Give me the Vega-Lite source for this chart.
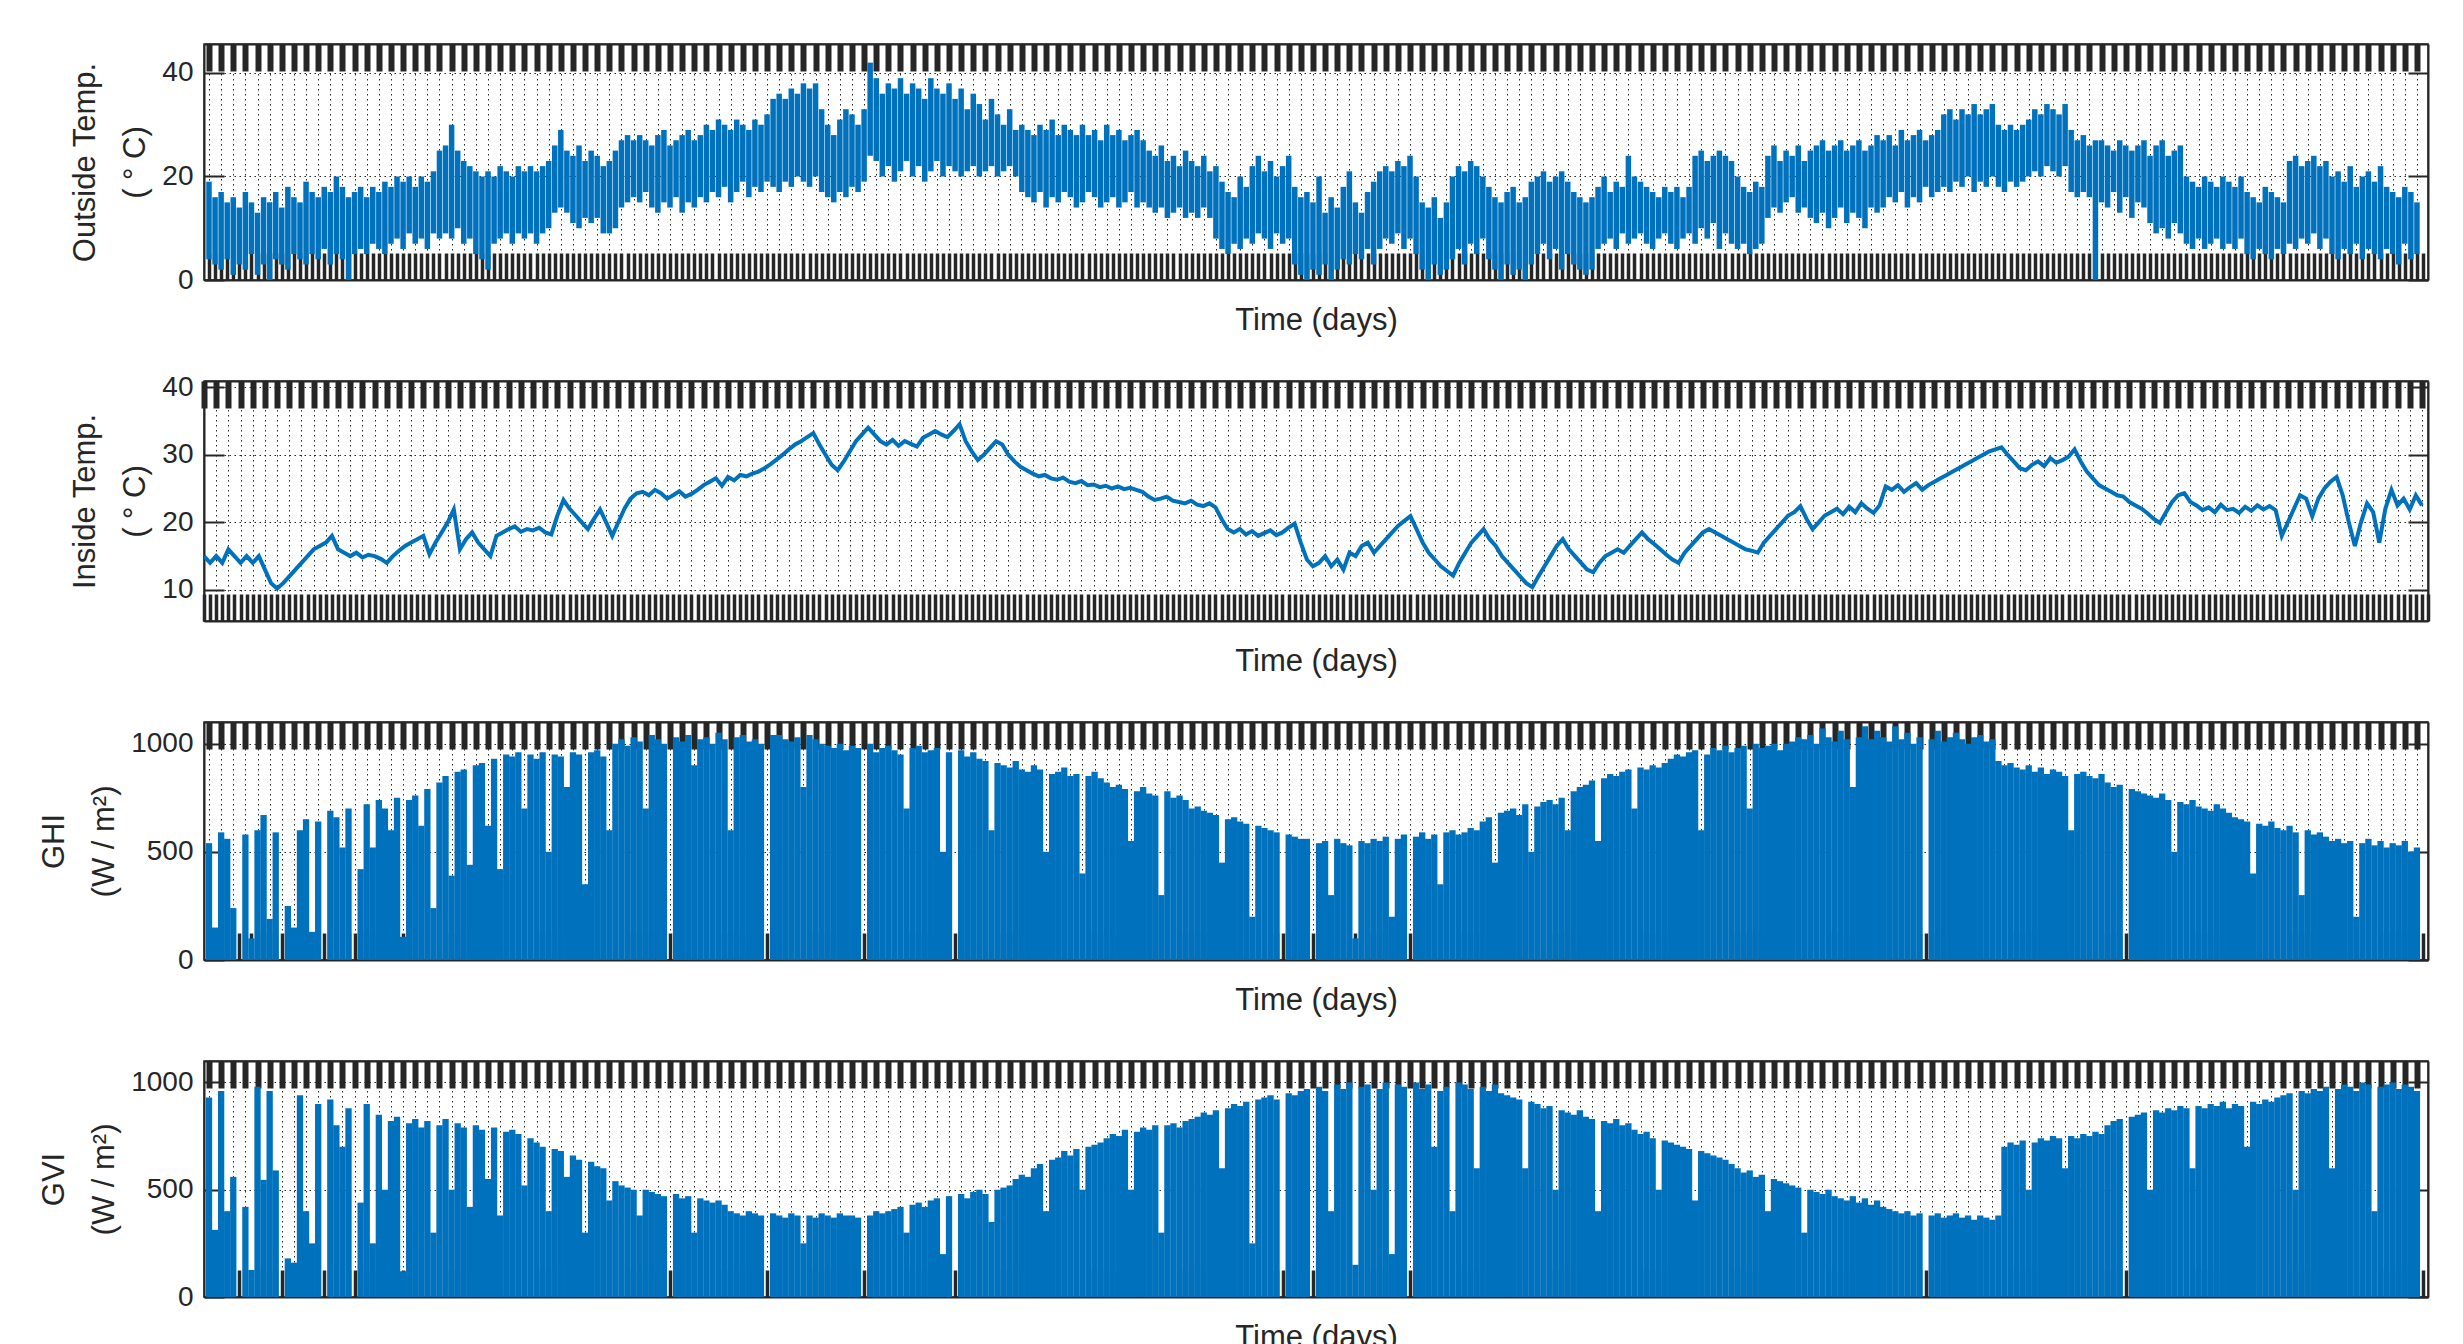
{
"$schema":"https://vega.github.io/schema/vega-lite/v6.json",
"padding":{"left":37,"top":40,"right":36,"bottom":5},
"background":"white",
"spacing":101,
"bounds":"flush",
"config":{
 "font":"Liberation Sans",
 "view":{"stroke":"#262626","strokeWidth":1.5},
 "axis":{"labelFont":"Liberation Sans","titleFont":"Liberation Sans","labelColor":"#262626","titleColor":"#262626","titleFontWeight":"normal","labelFontSize":28,"titleFontSize":31,"domainColor":"#262626","domainWidth":2,"tickColor":"#262626","gridColor":"#111111","gridDash":[1.5,3.5],"gridOpacity":0.9,"gridWidth":1,"titleLineHeight":50,"format":"d"}
},
"data":{"values":[
{"d":0,"lo":4,"hi":19,"ti":15,"g":540,"v":930},
{"d":1,"lo":3,"hi":16,"ti":14,"g":150,"v":313},
{"d":2,"lo":2,"hi":17,"ti":15,"g":590,"v":960},
{"d":3,"lo":4,"hi":15,"ti":14,"g":560,"v":400},
{"d":4,"lo":1,"hi":16,"ti":16,"g":240,"v":560},
{"d":5,"lo":3,"hi":14,"ti":15,"g":0,"v":0},
{"d":6,"lo":2,"hi":17,"ti":14,"g":580,"v":420},
{"d":7,"lo":5,"hi":15,"ti":15,"g":100,"v":126},
{"d":8,"lo":1,"hi":13,"ti":14,"g":600,"v":980},
{"d":9,"lo":3,"hi":16,"ti":15,"g":670,"v":546},
{"d":10,"lo":0,"hi":15,"ti":13,"g":190,"v":960},
{"d":11,"lo":4,"hi":17,"ti":11,"g":590,"v":590},
{"d":12,"lo":3,"hi":14,"ti":10.2,"g":0,"v":0},
{"d":13,"lo":2,"hi":18,"ti":11,"g":250,"v":180},
{"d":14,"lo":5,"hi":16,"ti":12,"g":150,"v":160},
{"d":15,"lo":4,"hi":15,"ti":13,"g":600,"v":940},
{"d":16,"lo":3,"hi":19,"ti":14,"g":650,"v":400},
{"d":17,"lo":5,"hi":17,"ti":15,"g":130,"v":250},
{"d":18,"lo":4,"hi":16,"ti":16,"g":640,"v":900},
{"d":19,"lo":6,"hi":18,"ti":16.5,"g":0,"v":0},
{"d":20,"lo":3,"hi":17,"ti":17,"g":690,"v":920},
{"d":21,"lo":5,"hi":20,"ti":18,"g":660,"v":800},
{"d":22,"lo":4,"hi":18,"ti":16,"g":520,"v":700},
{"d":23,"lo":0,"hi":16,"ti":15.5,"g":700,"v":880},
{"d":24,"lo":5,"hi":17,"ti":15,"g":0,"v":0},
{"d":25,"lo":6,"hi":18,"ti":15.5,"g":420,"v":440},
{"d":26,"lo":5,"hi":16,"ti":14.8,"g":720,"v":900},
{"d":27,"lo":7,"hi":18,"ti":15.2,"g":520,"v":250},
{"d":28,"lo":6,"hi":17,"ti":15,"g":740,"v":850},
{"d":29,"lo":5,"hi":19,"ti":14.6,"g":700,"v":500},
{"d":30,"lo":7,"hi":18,"ti":14,"g":600,"v":820},
{"d":31,"lo":8,"hi":20,"ti":15,"g":750,"v":840},
{"d":32,"lo":6,"hi":19,"ti":15.8,"g":107,"v":120},
{"d":33,"lo":9,"hi":20,"ti":16.5,"g":740,"v":810},
{"d":34,"lo":7,"hi":18,"ti":17,"g":760,"v":830},
{"d":35,"lo":8,"hi":20,"ti":17.5,"g":620,"v":790},
{"d":36,"lo":6,"hi":19,"ti":18,"g":790,"v":820},
{"d":37,"lo":9,"hi":21,"ti":15.3,"g":240,"v":300},
{"d":38,"lo":8,"hi":25,"ti":17,"g":820,"v":800},
{"d":39,"lo":9,"hi":26,"ti":18.5,"g":850,"v":830},
{"d":40,"lo":8,"hi":30,"ti":20,"g":390,"v":500},
{"d":41,"lo":10,"hi":25,"ti":21.9,"g":870,"v":810},
{"d":42,"lo":7,"hi":23,"ti":16,"g":880,"v":790},
{"d":43,"lo":8,"hi":22,"ti":17.5,"g":440,"v":420},
{"d":44,"lo":5,"hi":21,"ti":18.5,"g":900,"v":800},
{"d":45,"lo":4,"hi":20,"ti":17,"g":910,"v":780},
{"d":46,"lo":2,"hi":21,"ti":16,"g":620,"v":550},
{"d":47,"lo":7,"hi":20,"ti":15,"g":930,"v":790},
{"d":48,"lo":8,"hi":22,"ti":18,"g":420,"v":380},
{"d":49,"lo":9,"hi":21,"ti":18.5,"g":950,"v":770},
{"d":50,"lo":7,"hi":20,"ti":19,"g":940,"v":780},
{"d":51,"lo":9,"hi":22,"ti":19.4,"g":960,"v":760},
{"d":52,"lo":8,"hi":21,"ti":18.6,"g":700,"v":520},
{"d":53,"lo":9,"hi":22,"ti":19,"g":950,"v":740},
{"d":54,"lo":7,"hi":21,"ti":18.8,"g":930,"v":720},
{"d":55,"lo":9,"hi":22,"ti":19.2,"g":960,"v":700},
{"d":56,"lo":10,"hi":23,"ti":18.5,"g":500,"v":400},
{"d":57,"lo":13,"hi":26,"ti":18.2,"g":950,"v":690},
{"d":58,"lo":14,"hi":29,"ti":21,"g":940,"v":680},
{"d":59,"lo":13,"hi":25,"ti":23.3,"g":800,"v":560},
{"d":60,"lo":11,"hi":24,"ti":22,"g":960,"v":660},
{"d":61,"lo":10,"hi":26,"ti":21,"g":950,"v":640},
{"d":62,"lo":12,"hi":23,"ti":20,"g":350,"v":300},
{"d":63,"lo":11,"hi":25,"ti":19,"g":960,"v":630},
{"d":64,"lo":12,"hi":24,"ti":20.5,"g":970,"v":610},
{"d":65,"lo":9,"hi":22,"ti":21.9,"g":940,"v":600},
{"d":66,"lo":9,"hi":23,"ti":20,"g":600,"v":450},
{"d":67,"lo":10,"hi":25,"ti":18,"g":1000,"v":540},
{"d":68,"lo":14,"hi":27,"ti":20,"g":1020,"v":520},
{"d":69,"lo":15,"hi":28,"ti":22,"g":990,"v":510},
{"d":70,"lo":16,"hi":27,"ti":23.5,"g":1030,"v":500},
{"d":71,"lo":15,"hi":28,"ti":24.3,"g":1010,"v":380},
{"d":72,"lo":17,"hi":27,"ti":24.5,"g":700,"v":500},
{"d":73,"lo":14,"hi":26,"ti":24,"g":1040,"v":490},
{"d":74,"lo":13,"hi":28,"ti":24.8,"g":1020,"v":480},
{"d":75,"lo":15,"hi":29,"ti":24.3,"g":1000,"v":470},
{"d":76,"lo":14,"hi":26,"ti":23.5,"g":0,"v":0},
{"d":77,"lo":16,"hi":27,"ti":24,"g":1030,"v":480},
{"d":78,"lo":13,"hi":28,"ti":24.6,"g":1010,"v":460},
{"d":79,"lo":15,"hi":29,"ti":23.8,"g":1040,"v":470},
{"d":80,"lo":14,"hi":27,"ti":24.2,"g":900,"v":300},
{"d":81,"lo":16,"hi":28,"ti":24.8,"g":1020,"v":460},
{"d":82,"lo":15,"hi":30,"ti":25.5,"g":1030,"v":450},
{"d":83,"lo":17,"hi":29,"ti":26,"g":1000,"v":440},
{"d":84,"lo":16,"hi":31,"ti":26.5,"g":1050,"v":450},
{"d":85,"lo":18,"hi":30,"ti":25.4,"g":1020,"v":430},
{"d":86,"lo":15,"hi":29,"ti":26.7,"g":600,"v":400},
{"d":87,"lo":17,"hi":31,"ti":26.2,"g":1030,"v":390},
{"d":88,"lo":19,"hi":30,"ti":27,"g":1040,"v":380},
{"d":89,"lo":16,"hi":29,"ti":26.8,"g":1010,"v":400},
{"d":90,"lo":18,"hi":31,"ti":27.2,"g":1020,"v":390},
{"d":91,"lo":17,"hi":30,"ti":27.5,"g":1000,"v":380},
{"d":92,"lo":19,"hi":32,"ti":28,"g":0,"v":0},
{"d":93,"lo":18,"hi":35,"ti":28.6,"g":1040,"v":390},
{"d":94,"lo":17,"hi":36,"ti":29.3,"g":1040,"v":380},
{"d":95,"lo":19,"hi":35,"ti":30,"g":1020,"v":370},
{"d":96,"lo":18,"hi":37,"ti":30.8,"g":1010,"v":390},
{"d":97,"lo":20,"hi":36,"ti":31.5,"g":1030,"v":380},
{"d":98,"lo":19,"hi":38,"ti":32,"g":800,"v":250},
{"d":99,"lo":18,"hi":37,"ti":32.6,"g":1040,"v":380},
{"d":100,"lo":20,"hi":38,"ti":33.2,"g":1020,"v":370},
{"d":101,"lo":17,"hi":33,"ti":31.5,"g":1000,"v":390},
{"d":102,"lo":16,"hi":30,"ti":30,"g":990,"v":380},
{"d":103,"lo":15,"hi":28,"ti":28.5,"g":980,"v":370},
{"d":104,"lo":17,"hi":31,"ti":27.7,"g":1000,"v":390},
{"d":105,"lo":16,"hi":33,"ti":29,"g":970,"v":380},
{"d":106,"lo":18,"hi":32,"ti":30.5,"g":990,"v":380},
{"d":107,"lo":17,"hi":30,"ti":32,"g":980,"v":370},
{"d":108,"lo":19,"hi":33,"ti":33,"g":0,"v":0},
{"d":109,"lo":24,"hi":42,"ti":34,"g":1000,"v":380},
{"d":110,"lo":23,"hi":39,"ti":33,"g":960,"v":400},
{"d":111,"lo":20,"hi":36,"ti":32,"g":980,"v":390},
{"d":112,"lo":22,"hi":38,"ti":31.5,"g":990,"v":400},
{"d":113,"lo":19,"hi":37,"ti":32.2,"g":970,"v":410},
{"d":114,"lo":21,"hi":39,"ti":31.3,"g":950,"v":420},
{"d":115,"lo":23,"hi":36,"ti":32,"g":700,"v":300},
{"d":116,"lo":20,"hi":38,"ti":31.6,"g":980,"v":430},
{"d":117,"lo":22,"hi":37,"ti":31.2,"g":990,"v":440},
{"d":118,"lo":19,"hi":35,"ti":32.5,"g":960,"v":420},
{"d":119,"lo":21,"hi":39,"ti":33,"g":970,"v":450},
{"d":120,"lo":23,"hi":37,"ti":33.5,"g":980,"v":460},
{"d":121,"lo":20,"hi":36,"ti":33,"g":500,"v":200},
{"d":122,"lo":22,"hi":38,"ti":32.6,"g":960,"v":470},
{"d":123,"lo":21,"hi":35,"ti":33.5,"g":0,"v":0},
{"d":124,"lo":20,"hi":37,"ti":34.5,"g":970,"v":480},
{"d":125,"lo":21,"hi":33,"ti":32,"g":940,"v":460},
{"d":126,"lo":22,"hi":36,"ti":30.5,"g":960,"v":490},
{"d":127,"lo":20,"hi":34,"ti":29.2,"g":930,"v":500},
{"d":128,"lo":21,"hi":31,"ti":30,"g":920,"v":480},
{"d":129,"lo":22,"hi":35,"ti":31,"g":600,"v":350},
{"d":130,"lo":20,"hi":32,"ti":32,"g":910,"v":500},
{"d":131,"lo":21,"hi":30,"ti":31.5,"g":900,"v":510},
{"d":132,"lo":22,"hi":33,"ti":30,"g":890,"v":520},
{"d":133,"lo":20,"hi":29,"ti":29,"g":920,"v":550},
{"d":134,"lo":17,"hi":30,"ti":28.2,"g":880,"v":570},
{"d":135,"lo":16,"hi":29,"ti":27.7,"g":870,"v":560},
{"d":136,"lo":15,"hi":28,"ti":27.2,"g":900,"v":600},
{"d":137,"lo":17,"hi":30,"ti":26.8,"g":880,"v":620},
{"d":138,"lo":14,"hi":29,"ti":27,"g":500,"v":400},
{"d":139,"lo":16,"hi":31,"ti":26.5,"g":860,"v":640},
{"d":140,"lo":15,"hi":28,"ti":26.3,"g":870,"v":650},
{"d":141,"lo":17,"hi":30,"ti":26.6,"g":890,"v":680},
{"d":142,"lo":16,"hi":29,"ti":26,"g":850,"v":660},
{"d":143,"lo":14,"hi":28,"ti":25.8,"g":860,"v":690},
{"d":144,"lo":15,"hi":30,"ti":26.1,"g":400,"v":500},
{"d":145,"lo":17,"hi":28,"ti":25.5,"g":850,"v":700},
{"d":146,"lo":16,"hi":29,"ti":25.6,"g":870,"v":710},
{"d":147,"lo":14,"hi":27,"ti":25.2,"g":840,"v":720},
{"d":148,"lo":15,"hi":30,"ti":25.4,"g":820,"v":740},
{"d":149,"lo":16,"hi":28,"ti":25,"g":800,"v":760},
{"d":150,"lo":14,"hi":29,"ti":25.3,"g":810,"v":750},
{"d":151,"lo":15,"hi":27,"ti":24.9,"g":790,"v":780},
{"d":152,"lo":17,"hi":28,"ti":25.1,"g":550,"v":500},
{"d":153,"lo":14,"hi":29,"ti":24.8,"g":780,"v":770},
{"d":154,"lo":15,"hi":27,"ti":24.5,"g":800,"v":790},
{"d":155,"lo":14,"hi":25,"ti":23.8,"g":770,"v":780},
{"d":156,"lo":13,"hi":24,"ti":23.3,"g":760,"v":800},
{"d":157,"lo":14,"hi":26,"ti":23.5,"g":300,"v":300},
{"d":158,"lo":12,"hi":23,"ti":23.8,"g":780,"v":800},
{"d":159,"lo":13,"hi":24,"ti":23.2,"g":750,"v":810},
{"d":160,"lo":14,"hi":22,"ti":23,"g":760,"v":790},
{"d":161,"lo":12,"hi":25,"ti":22.8,"g":740,"v":820},
{"d":162,"lo":13,"hi":23,"ti":23.2,"g":700,"v":830},
{"d":163,"lo":12,"hi":22,"ti":22.6,"g":710,"v":840},
{"d":164,"lo":14,"hi":24,"ti":22.4,"g":690,"v":860},
{"d":165,"lo":12,"hi":21,"ti":22.8,"g":680,"v":850},
{"d":166,"lo":8,"hi":22,"ti":22.2,"g":670,"v":870},
{"d":167,"lo":6,"hi":19,"ti":20.5,"g":450,"v":600},
{"d":168,"lo":5,"hi":17,"ti":19,"g":650,"v":880},
{"d":169,"lo":7,"hi":16,"ti":18.5,"g":660,"v":900},
{"d":170,"lo":6,"hi":20,"ti":19,"g":640,"v":890},
{"d":171,"lo":8,"hi":18,"ti":18.2,"g":630,"v":910},
{"d":172,"lo":7,"hi":22,"ti":18.7,"g":200,"v":250},
{"d":173,"lo":9,"hi":24,"ti":18,"g":620,"v":920},
{"d":174,"lo":8,"hi":21,"ti":18.4,"g":610,"v":930},
{"d":175,"lo":6,"hi":23,"ti":18.8,"g":600,"v":940},
{"d":176,"lo":9,"hi":20,"ti":18.1,"g":590,"v":920},
{"d":177,"lo":7,"hi":22,"ti":18.5,"g":0,"v":0},
{"d":178,"lo":8,"hi":24,"ti":19.2,"g":580,"v":950},
{"d":179,"lo":3,"hi":18,"ti":19.8,"g":570,"v":940},
{"d":180,"lo":1,"hi":16,"ti":17,"g":560,"v":960},
{"d":181,"lo":0,"hi":17,"ti":14.5,"g":560,"v":970},
{"d":182,"lo":2,"hi":15,"ti":13.5,"g":0,"v":0},
{"d":183,"lo":1,"hi":20,"ti":14,"g":540,"v":980},
{"d":184,"lo":3,"hi":13,"ti":15,"g":550,"v":960},
{"d":185,"lo":0,"hi":16,"ti":13.5,"g":300,"v":400},
{"d":186,"lo":2,"hi":14,"ti":14.5,"g":560,"v":990},
{"d":187,"lo":4,"hi":18,"ti":13,"g":540,"v":970},
{"d":188,"lo":3,"hi":21,"ti":15.5,"g":530,"v":1000},
{"d":189,"lo":5,"hi":15,"ti":15,"g":100,"v":150},
{"d":190,"lo":4,"hi":13,"ti":16.5,"g":550,"v":980},
{"d":191,"lo":6,"hi":17,"ti":17,"g":540,"v":990},
{"d":192,"lo":3,"hi":19,"ti":15.5,"g":560,"v":500},
{"d":193,"lo":6,"hi":21,"ti":16.5,"g":550,"v":970},
{"d":194,"lo":8,"hi":22,"ti":17.5,"g":570,"v":1000},
{"d":195,"lo":7,"hi":21,"ti":18.5,"g":200,"v":200},
{"d":196,"lo":9,"hi":23,"ti":19.5,"g":560,"v":990},
{"d":197,"lo":6,"hi":22,"ti":20.2,"g":580,"v":980},
{"d":198,"lo":8,"hi":24,"ti":20.9,"g":0,"v":0},
{"d":199,"lo":5,"hi":20,"ti":19,"g":570,"v":1000},
{"d":200,"lo":2,"hi":15,"ti":17,"g":590,"v":970},
{"d":201,"lo":0,"hi":14,"ti":15.5,"g":560,"v":990},
{"d":202,"lo":3,"hi":16,"ti":14.5,"g":580,"v":700},
{"d":203,"lo":1,"hi":12,"ti":13.5,"g":350,"v":960},
{"d":204,"lo":2,"hi":15,"ti":12.8,"g":590,"v":980},
{"d":205,"lo":4,"hi":20,"ti":12.1,"g":600,"v":400},
{"d":206,"lo":6,"hi":22,"ti":14,"g":580,"v":1000},
{"d":207,"lo":3,"hi":21,"ti":15.5,"g":590,"v":990},
{"d":208,"lo":7,"hi":23,"ti":17,"g":610,"v":970},
{"d":209,"lo":5,"hi":22,"ti":18,"g":600,"v":600},
{"d":210,"lo":8,"hi":20,"ti":19,"g":640,"v":980},
{"d":211,"lo":4,"hi":18,"ti":17.5,"g":660,"v":960},
{"d":212,"lo":2,"hi":16,"ti":16.5,"g":450,"v":990},
{"d":213,"lo":0,"hi":15,"ti":15,"g":680,"v":950},
{"d":214,"lo":3,"hi":17,"ti":14,"g":690,"v":940},
{"d":215,"lo":1,"hi":18,"ti":13,"g":700,"v":930},
{"d":216,"lo":2,"hi":15,"ti":12,"g":670,"v":920},
{"d":217,"lo":0,"hi":16,"ti":11,"g":720,"v":600},
{"d":218,"lo":3,"hi":19,"ti":10.4,"g":500,"v":910},
{"d":219,"lo":5,"hi":20,"ti":12,"g":710,"v":900},
{"d":220,"lo":7,"hi":21,"ti":13.5,"g":730,"v":880},
{"d":221,"lo":4,"hi":19,"ti":15,"g":740,"v":890},
{"d":222,"lo":6,"hi":20,"ti":16.5,"g":720,"v":500},
{"d":223,"lo":2,"hi":21,"ti":17.5,"g":750,"v":870},
{"d":224,"lo":5,"hi":19,"ti":16,"g":600,"v":860},
{"d":225,"lo":3,"hi":17,"ti":15,"g":780,"v":850},
{"d":226,"lo":2,"hi":16,"ti":14,"g":800,"v":870},
{"d":227,"lo":1,"hi":15,"ti":13,"g":810,"v":840},
{"d":228,"lo":2,"hi":16,"ti":12.6,"g":830,"v":830},
{"d":229,"lo":6,"hi":18,"ti":14,"g":550,"v":400},
{"d":230,"lo":7,"hi":20,"ti":15,"g":840,"v":820},
{"d":231,"lo":8,"hi":17,"ti":15.5,"g":860,"v":810},
{"d":232,"lo":6,"hi":19,"ti":16,"g":850,"v":830},
{"d":233,"lo":9,"hi":18,"ti":15.5,"g":870,"v":800},
{"d":234,"lo":7,"hi":24,"ti":16.5,"g":880,"v":810},
{"d":235,"lo":8,"hi":20,"ti":17.5,"g":700,"v":780},
{"d":236,"lo":9,"hi":19,"ti":18.5,"g":890,"v":760},
{"d":237,"lo":7,"hi":18,"ti":17.5,"g":880,"v":770},
{"d":238,"lo":6,"hi":17,"ti":16.8,"g":900,"v":740},
{"d":239,"lo":8,"hi":16,"ti":16,"g":890,"v":500},
{"d":240,"lo":9,"hi":18,"ti":15.2,"g":910,"v":730},
{"d":241,"lo":7,"hi":17,"ti":14.5,"g":930,"v":720},
{"d":242,"lo":6,"hi":18,"ti":14,"g":950,"v":710},
{"d":243,"lo":8,"hi":16,"ti":15.5,"g":940,"v":700},
{"d":244,"lo":9,"hi":18,"ti":16.5,"g":960,"v":690},
{"d":245,"lo":7,"hi":24,"ti":17.5,"g":970,"v":450},
{"d":246,"lo":10,"hi":25,"ti":18.5,"g":600,"v":680},
{"d":247,"lo":8,"hi":23,"ti":19,"g":950,"v":670},
{"d":248,"lo":11,"hi":24,"ti":18.5,"g":980,"v":660},
{"d":249,"lo":6,"hi":25,"ti":18,"g":970,"v":650},
{"d":250,"lo":9,"hi":24,"ti":17.5,"g":990,"v":640},
{"d":251,"lo":7,"hi":23,"ti":17,"g":960,"v":620},
{"d":252,"lo":6,"hi":20,"ti":16.5,"g":980,"v":600},
{"d":253,"lo":7,"hi":18,"ti":16,"g":990,"v":580},
{"d":254,"lo":5,"hi":17,"ti":15.8,"g":700,"v":590},
{"d":255,"lo":6,"hi":19,"ti":15.5,"g":1000,"v":560},
{"d":256,"lo":7,"hi":18,"ti":17,"g":980,"v":570},
{"d":257,"lo":12,"hi":24,"ti":18,"g":990,"v":400},
{"d":258,"lo":14,"hi":26,"ti":19,"g":1000,"v":550},
{"d":259,"lo":13,"hi":23,"ti":20,"g":970,"v":540},
{"d":260,"lo":15,"hi":25,"ti":21,"g":1000,"v":530},
{"d":261,"lo":16,"hi":24,"ti":21.5,"g":1010,"v":520},
{"d":262,"lo":13,"hi":26,"ti":22.4,"g":1030,"v":510},
{"d":263,"lo":14,"hi":23,"ti":20.5,"g":1020,"v":300},
{"d":264,"lo":12,"hi":25,"ti":19,"g":1040,"v":500},
{"d":265,"lo":11,"hi":26,"ti":20,"g":1000,"v":490},
{"d":266,"lo":13,"hi":27,"ti":21,"g":1070,"v":480},
{"d":267,"lo":10,"hi":25,"ti":21.5,"g":1030,"v":500},
{"d":268,"lo":12,"hi":26,"ti":22,"g":1010,"v":470},
{"d":269,"lo":14,"hi":27,"ti":21.2,"g":1060,"v":460},
{"d":270,"lo":11,"hi":25,"ti":22.3,"g":1020,"v":450},
{"d":271,"lo":13,"hi":26,"ti":21.5,"g":800,"v":470},
{"d":272,"lo":12,"hi":27,"ti":22.8,"g":1030,"v":440},
{"d":273,"lo":10,"hi":25,"ti":22,"g":1080,"v":460},
{"d":274,"lo":14,"hi":26,"ti":21.4,"g":1020,"v":430},
{"d":275,"lo":13,"hi":28,"ti":22.5,"g":1060,"v":450},
{"d":276,"lo":14,"hi":27,"ti":25.3,"g":1030,"v":420},
{"d":277,"lo":16,"hi":28,"ti":24.8,"g":1010,"v":410},
{"d":278,"lo":15,"hi":26,"ti":25.5,"g":1080,"v":400},
{"d":279,"lo":17,"hi":29,"ti":24.5,"g":1020,"v":390},
{"d":280,"lo":14,"hi":27,"ti":25.2,"g":1050,"v":400},
{"d":281,"lo":16,"hi":28,"ti":25.8,"g":1000,"v":380},
{"d":282,"lo":15,"hi":29,"ti":24.8,"g":1030,"v":390},
{"d":283,"lo":18,"hi":27,"ti":25.5,"g":0,"v":0},
{"d":284,"lo":16,"hi":28,"ti":26,"g":1020,"v":380},
{"d":285,"lo":17,"hi":29,"ti":26.5,"g":1060,"v":390},
{"d":286,"lo":18,"hi":32,"ti":27,"g":1010,"v":370},
{"d":287,"lo":17,"hi":33,"ti":27.5,"g":1030,"v":380},
{"d":288,"lo":19,"hi":31,"ti":28,"g":1050,"v":390},
{"d":289,"lo":18,"hi":33,"ti":28.5,"g":1020,"v":370},
{"d":290,"lo":20,"hi":32,"ti":29,"g":1000,"v":380},
{"d":291,"lo":17,"hi":34,"ti":29.5,"g":1030,"v":360},
{"d":292,"lo":19,"hi":32,"ti":30,"g":1040,"v":380},
{"d":293,"lo":18,"hi":33,"ti":30.5,"g":1010,"v":370},
{"d":294,"lo":20,"hi":34,"ti":30.8,"g":1020,"v":360},
{"d":295,"lo":18,"hi":30,"ti":31.1,"g":920,"v":380},
{"d":296,"lo":17,"hi":29,"ti":30,"g":900,"v":700},
{"d":297,"lo":19,"hi":30,"ti":29,"g":910,"v":720},
{"d":298,"lo":18,"hi":29,"ti":28,"g":890,"v":710},
{"d":299,"lo":19,"hi":30,"ti":27.7,"g":880,"v":730},
{"d":300,"lo":20,"hi":31,"ti":28.5,"g":900,"v":500},
{"d":301,"lo":21,"hi":33,"ti":29,"g":870,"v":720},
{"d":302,"lo":20,"hi":32,"ti":28.3,"g":890,"v":740},
{"d":303,"lo":22,"hi":34,"ti":29.5,"g":860,"v":730},
{"d":304,"lo":21,"hi":33,"ti":28.8,"g":880,"v":750},
{"d":305,"lo":20,"hi":32,"ti":29.2,"g":870,"v":740},
{"d":306,"lo":22,"hi":34,"ti":29.7,"g":850,"v":600},
{"d":307,"lo":17,"hi":29,"ti":30.8,"g":600,"v":750},
{"d":308,"lo":16,"hi":27,"ti":29,"g":860,"v":740},
{"d":309,"lo":17,"hi":28,"ti":27.5,"g":870,"v":760},
{"d":310,"lo":16,"hi":26,"ti":26.5,"g":850,"v":750},
{"d":311,"lo":0,"hi":27,"ti":25.5,"g":840,"v":770},
{"d":312,"lo":15,"hi":27,"ti":25,"g":860,"v":760},
{"d":313,"lo":14,"hi":26,"ti":24.5,"g":820,"v":800},
{"d":314,"lo":17,"hi":25,"ti":24,"g":800,"v":820},
{"d":315,"lo":13,"hi":27,"ti":23.8,"g":810,"v":830},
{"d":316,"lo":16,"hi":26,"ti":23,"g":0,"v":0},
{"d":317,"lo":12,"hi":25,"ti":22.5,"g":790,"v":840},
{"d":318,"lo":15,"hi":26,"ti":22,"g":780,"v":850},
{"d":319,"lo":14,"hi":27,"ti":21.3,"g":770,"v":860},
{"d":320,"lo":11,"hi":24,"ti":20.5,"g":760,"v":500},
{"d":321,"lo":9,"hi":26,"ti":19.9,"g":750,"v":870},
{"d":322,"lo":10,"hi":27,"ti":21.5,"g":770,"v":860},
{"d":323,"lo":8,"hi":24,"ti":23,"g":740,"v":880},
{"d":324,"lo":11,"hi":25,"ti":24,"g":500,"v":870},
{"d":325,"lo":9,"hi":26,"ti":24.3,"g":730,"v":890},
{"d":326,"lo":7,"hi":20,"ti":23,"g":720,"v":880},
{"d":327,"lo":6,"hi":19,"ti":22.5,"g":740,"v":600},
{"d":328,"lo":8,"hi":18,"ti":21.8,"g":710,"v":890},
{"d":329,"lo":6,"hi":20,"ti":22.2,"g":700,"v":880},
{"d":330,"lo":7,"hi":19,"ti":21.5,"g":690,"v":900},
{"d":331,"lo":8,"hi":18,"ti":22.6,"g":720,"v":890},
{"d":332,"lo":6,"hi":20,"ti":21.8,"g":700,"v":910},
{"d":333,"lo":7,"hi":19,"ti":22,"g":680,"v":880},
{"d":334,"lo":6,"hi":18,"ti":21.4,"g":660,"v":900},
{"d":335,"lo":8,"hi":20,"ti":22.3,"g":650,"v":890},
{"d":336,"lo":5,"hi":17,"ti":21.7,"g":640,"v":700},
{"d":337,"lo":4,"hi":16,"ti":22.5,"g":400,"v":910},
{"d":338,"lo":6,"hi":15,"ti":21.9,"g":630,"v":900},
{"d":339,"lo":5,"hi":18,"ti":22.4,"g":620,"v":920},
{"d":340,"lo":4,"hi":17,"ti":21.8,"g":640,"v":910},
{"d":341,"lo":6,"hi":16,"ti":18,"g":610,"v":930},
{"d":342,"lo":5,"hi":15,"ti":20,"g":600,"v":940},
{"d":343,"lo":7,"hi":23,"ti":22,"g":620,"v":950},
{"d":344,"lo":6,"hi":24,"ti":24,"g":590,"v":500},
{"d":345,"lo":8,"hi":22,"ti":23.5,"g":300,"v":960},
{"d":346,"lo":7,"hi":23,"ti":20.9,"g":600,"v":950},
{"d":347,"lo":9,"hi":24,"ti":23.5,"g":580,"v":970},
{"d":348,"lo":6,"hi":22,"ti":25,"g":590,"v":960},
{"d":349,"lo":8,"hi":23,"ti":26,"g":570,"v":980},
{"d":350,"lo":5,"hi":20,"ti":26.7,"g":550,"v":600},
{"d":351,"lo":4,"hi":21,"ti":24,"g":560,"v":970},
{"d":352,"lo":6,"hi":19,"ti":20,"g":540,"v":990},
{"d":353,"lo":5,"hi":22,"ti":16.5,"g":550,"v":980},
{"d":354,"lo":7,"hi":18,"ti":20,"g":200,"v":960},
{"d":355,"lo":4,"hi":20,"ti":22.8,"g":540,"v":1000},
{"d":356,"lo":6,"hi":21,"ti":21.5,"g":560,"v":990},
{"d":357,"lo":5,"hi":19,"ti":17,"g":530,"v":400},
{"d":358,"lo":4,"hi":22,"ti":22,"g":550,"v":980},
{"d":359,"lo":6,"hi":18,"ti":24.8,"g":520,"v":990},
{"d":360,"lo":5,"hi":17,"ti":22.5,"g":540,"v":1000},
{"d":361,"lo":3,"hi":16,"ti":23.5,"g":530,"v":970},
{"d":362,"lo":7,"hi":18,"ti":21.9,"g":550,"v":990},
{"d":363,"lo":4,"hi":17,"ti":24,"g":500,"v":980},
{"d":364,"lo":5,"hi":15,"ti":22.5,"g":520,"v":960}
]},
"vconcat":[
{"width":2224,"height":236,
 "layer":[
  {"mark":{"type":"bar","color":"#0072BD","width":5.5,"clip":true},
   "encoding":{
    "x":{"field":"d","type":"quantitative","scale":{"domain":[0,365],"nice":false,"zero":false},
         "axis":{"orient":"bottom","title":"Time (days)","labels":false,"tickSize":-27,"tickWidth":3.5,"tickCount":366,"grid":false,"titlePadding":24}},
    "y":{"field":"lo","type":"quantitative","scale":{"domain":[0,45.6],"nice":false,"zero":false},
         "axis":{"orient":"left","title":["Outside Temp.","( ° C)"],"values":[0,20,40],"tickSize":-20,"tickWidth":2,"labelPadding":31,"grid":true,"titlePadding":10}},
    "y2":{"field":"hi"}}},
  {"mark":{"type":"bar","opacity":0,"width":5.5,"clip":true},
   "encoding":{
    "x":{"field":"d","type":"quantitative","axis":{"orient":"top","title":null,"labels":false,"tickSize":-27,"tickWidth":6,"tickCount":183,"grid":true}},
    "y":{"field":"lo","type":"quantitative","axis":{"orient":"right","title":null,"labels":false,"values":[0,20,40],"tickSize":-20,"tickWidth":2,"grid":false}},
    "y2":{"field":"hi"}}}
 ],
 "resolve":{"axis":{"x":"independent","y":"independent"}}
},
{"width":2224,"height":240,
 "layer":[
  {"mark":{"type":"line","color":"#0072BD","strokeWidth":4,"clip":true},
   "encoding":{
    "x":{"field":"d","type":"quantitative","scale":{"domain":[0,365],"nice":false,"zero":false},
         "axis":{"orient":"bottom","title":"Time (days)","labels":false,"tickSize":-27,"tickWidth":3.5,"tickCount":366,"grid":false,"titlePadding":24}},
    "y":{"field":"ti","type":"quantitative","scale":{"domain":[5.4,40.9],"nice":false,"zero":false},
         "axis":{"orient":"left","title":["Inside Temp.","( ° C)"],"values":[10,20,30,40],"tickSize":-20,"tickWidth":2,"labelPadding":31,"grid":true,"titlePadding":10}}}},
  {"mark":{"type":"line","opacity":0,"clip":true},
   "encoding":{
    "x":{"field":"d","type":"quantitative","axis":{"orient":"top","title":null,"labels":false,"tickSize":-27,"tickWidth":6,"tickCount":183,"grid":true}},
    "y":{"field":"ti","type":"quantitative","axis":{"orient":"right","title":null,"labels":false,"values":[10,20,30,40],"tickSize":-20,"tickWidth":2,"grid":false}}}}
 ],
 "resolve":{"axis":{"x":"independent","y":"independent"}}
},
{"width":2224,"height":238,
 "layer":[
  {"mark":{"type":"bar","color":"#0072BD","width":6.3,"clip":true},
   "encoding":{
    "x":{"field":"d","type":"quantitative","scale":{"domain":[0,365],"nice":false,"zero":false},
         "axis":{"orient":"bottom","title":"Time (days)","labels":false,"tickSize":-27,"tickWidth":3.5,"tickCount":366,"grid":false,"titlePadding":24}},
    "y":{"field":"g","type":"quantitative","scale":{"domain":[0,1100],"nice":false},
         "axis":{"orient":"left","title":["GHI","(W / m²)"],"values":[0,500,1000],"tickSize":-20,"tickWidth":2,"labelPadding":31,"grid":true,"titlePadding":10}}}},
  {"mark":{"type":"bar","opacity":0,"width":6.3,"clip":true},
   "encoding":{
    "x":{"field":"d","type":"quantitative","axis":{"orient":"top","title":null,"labels":false,"tickSize":-27,"tickWidth":6,"tickCount":183,"grid":true}},
    "y":{"field":"g","type":"quantitative","axis":{"orient":"right","title":null,"labels":false,"values":[0,500,1000],"tickSize":-20,"tickWidth":2,"grid":false}}}}
 ],
 "resolve":{"axis":{"x":"independent","y":"independent"}}
},
{"width":2224,"height":236,
 "layer":[
  {"mark":{"type":"bar","color":"#0072BD","width":6.3,"clip":true},
   "encoding":{
    "x":{"field":"d","type":"quantitative","scale":{"domain":[0,365],"nice":false,"zero":false},
         "axis":{"orient":"bottom","title":"Time (days)","labels":false,"tickSize":-27,"tickWidth":3.5,"tickCount":366,"grid":false,"titlePadding":24}},
    "y":{"field":"v","type":"quantitative","scale":{"domain":[0,1100],"nice":false},
         "axis":{"orient":"left","title":["GVI","(W / m²)"],"values":[0,500,1000],"tickSize":-20,"tickWidth":2,"labelPadding":31,"grid":true,"titlePadding":10}}}},
  {"mark":{"type":"bar","opacity":0,"width":6.3,"clip":true},
   "encoding":{
    "x":{"field":"d","type":"quantitative","axis":{"orient":"top","title":null,"labels":false,"tickSize":-27,"tickWidth":6,"tickCount":183,"grid":true}},
    "y":{"field":"v","type":"quantitative","axis":{"orient":"right","title":null,"labels":false,"values":[0,500,1000],"tickSize":-20,"tickWidth":2,"grid":false}}}}
 ],
 "resolve":{"axis":{"x":"independent","y":"independent"}}
}
]
}
